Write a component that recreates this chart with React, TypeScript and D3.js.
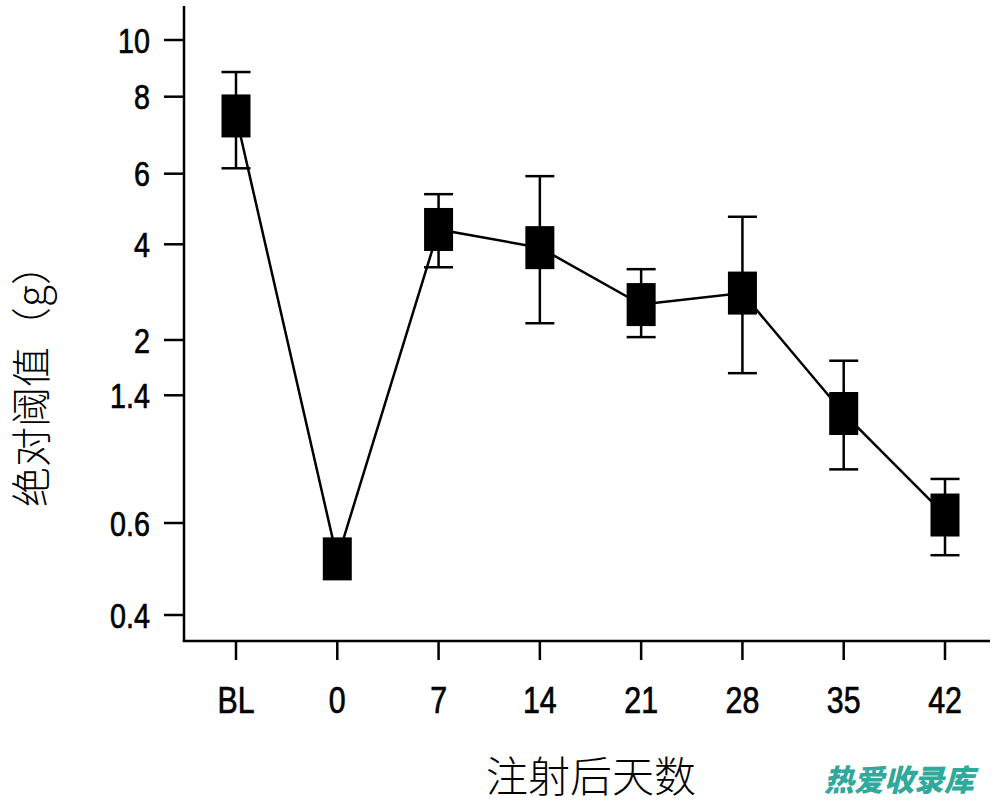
import React from "react";
import * as d3 from "d3";

// ---- data ----
const categories = ["BL", "0", "7", "14", "21", "28", "35", "42"];
const meanValues = [7.5, 0.522, 4.42, 3.93, 2.74, 2.98, 1.286, 0.65];
const upperValues = [8.87, null, 5.42, 5.93, 3.48, 4.78, 1.775, 0.876];
const lowerValues = [6.14, null, 3.52, 2.35, 2.06, 1.64, 0.936, 0.53];
const yTickValues = [10, 8, 6, 4, 2, 1.4, 0.6, 0.4];
const yTickLabels = ["10", "8", "6", "4", "2", "1.4", "0.6", "0.4"];
// relative placement of the (irregular) axis ticks along the axis, 0 = top tick, 1 = bottom tick
const yTickFractions = [0, 0.0986, 0.2325, 0.3553, 0.5217, 0.6179, 0.84, 1];
const xTitle = "注射后天数";
const yTitle = "绝对阈值（g）";
const watermark = "热爱收录库";

const W = 1000;
const H = 803;
const axisX = 184;
const axisY = 641;
const plotTop = 40;
const plotBottom = 615;
const numFont = "'Liberation Sans', Arial, sans-serif";
const cjkFont = "'Noto Sans CJK SC', 'Noto Sans CJK TC', sans-serif";
const squeeze = 0.82;

export default function App() {
  const x = d3.scalePoint<string>().domain(categories).range([236, 945]);
  const y = d3
    .scaleLinear()
    .domain(yTickValues)
    .range(yTickFractions.map((f) => plotTop + f * (plotBottom - plotTop)));

  const line = d3
    .line<number>()
    .x((_, i) => x(categories[i]) as number)
    .y((d) => y(d));

  const markerW = 29;
  const markerH = 43;
  const capW = 29;

  return (
    <svg
      width={W}
      height={H}
      style={{ position: "absolute", left: 0, top: 0, background: "#fff" }}
    >
      <rect x={0} y={0} width={W} height={H} fill="#fff" />
      {/* axes */}
      <line x1={axisX} y1={6} x2={axisX} y2={axisY} stroke="#000" strokeWidth={2.5} />
      <line x1={axisX - 1.25} y1={axisY} x2={990} y2={axisY} stroke="#000" strokeWidth={2.5} />
      {yTickValues.map((v, i) => (
        <g key={"yt" + i}>
          <line x1={axisX - 20} x2={axisX} y1={y(v)} y2={y(v)} stroke="#000" strokeWidth={2.5} />
          <text
            transform={`translate(150, ${y(v)}) scale(${squeeze}, 1)`}
            dy="0.36em"
            textAnchor="end"
            fontFamily={numFont}
            fontSize={35}
            fill="#000"
            stroke="#000"
            strokeWidth={0.7}
          >
            {yTickLabels[i]}
          </text>
        </g>
      ))}
      {categories.map((c) => (
        <g key={"xt" + c}>
          <line x1={x(c)} x2={x(c)} y1={axisY} y2={axisY + 19} stroke="#000" strokeWidth={2.5} />
          <text
            transform={`translate(${x(c)}, 713) scale(${squeeze}, 1)`}
            textAnchor="middle"
            fontFamily={numFont}
            fontSize={37}
            fill="#000"
            stroke="#000"
            strokeWidth={0.7}
          >
            {c}
          </text>
        </g>
      ))}
      {/* titles */}
      <text
        x={591}
        y={792}
        textAnchor="middle"
        fontFamily={cjkFont}
        fontSize={42}
        fontWeight={300}
        fill="#000"
      >
        {xTitle}
      </text>
      <text
        transform={`translate(46, 376) rotate(-90)`}
        textAnchor="middle"
        fontFamily={cjkFont}
        fontSize={40}
        fontWeight={300}
        fill="#000"
      >
        {yTitle}
      </text>
      {/* line */}
      <path d={line(meanValues) || ""} fill="none" stroke="#000" strokeWidth={2.5} />
      {/* error bars */}
      {categories.map((c, i) => {
        const up = upperValues[i];
        const lo = lowerValues[i];
        if (up == null || lo == null) return null;
        const cx = x(c) as number;
        return (
          <g key={"eb" + c} stroke="#000" strokeWidth={2.5}>
            <line x1={cx} x2={cx} y1={y(up)} y2={y(lo)} />
            <line x1={cx - capW / 2} x2={cx + capW / 2} y1={y(up)} y2={y(up)} />
            <line x1={cx - capW / 2} x2={cx + capW / 2} y1={y(lo)} y2={y(lo)} />
          </g>
        );
      })}
      {/* markers */}
      {categories.map((c, i) => (
        <rect
          key={"m" + c}
          x={(x(c) as number) - markerW / 2}
          y={y(meanValues[i]) - markerH / 2}
          width={markerW}
          height={markerH}
          fill="#000"
        />
      ))}
      {/* watermark */}
      <text
        x={899}
        y={791}
        textAnchor="middle"
        fontFamily={cjkFont}
        fontSize={30}
        fontWeight={900}
        fontStyle="italic"
        fill="#2ea99b"
      >
        {watermark}
      </text>
    </svg>
  );
}
